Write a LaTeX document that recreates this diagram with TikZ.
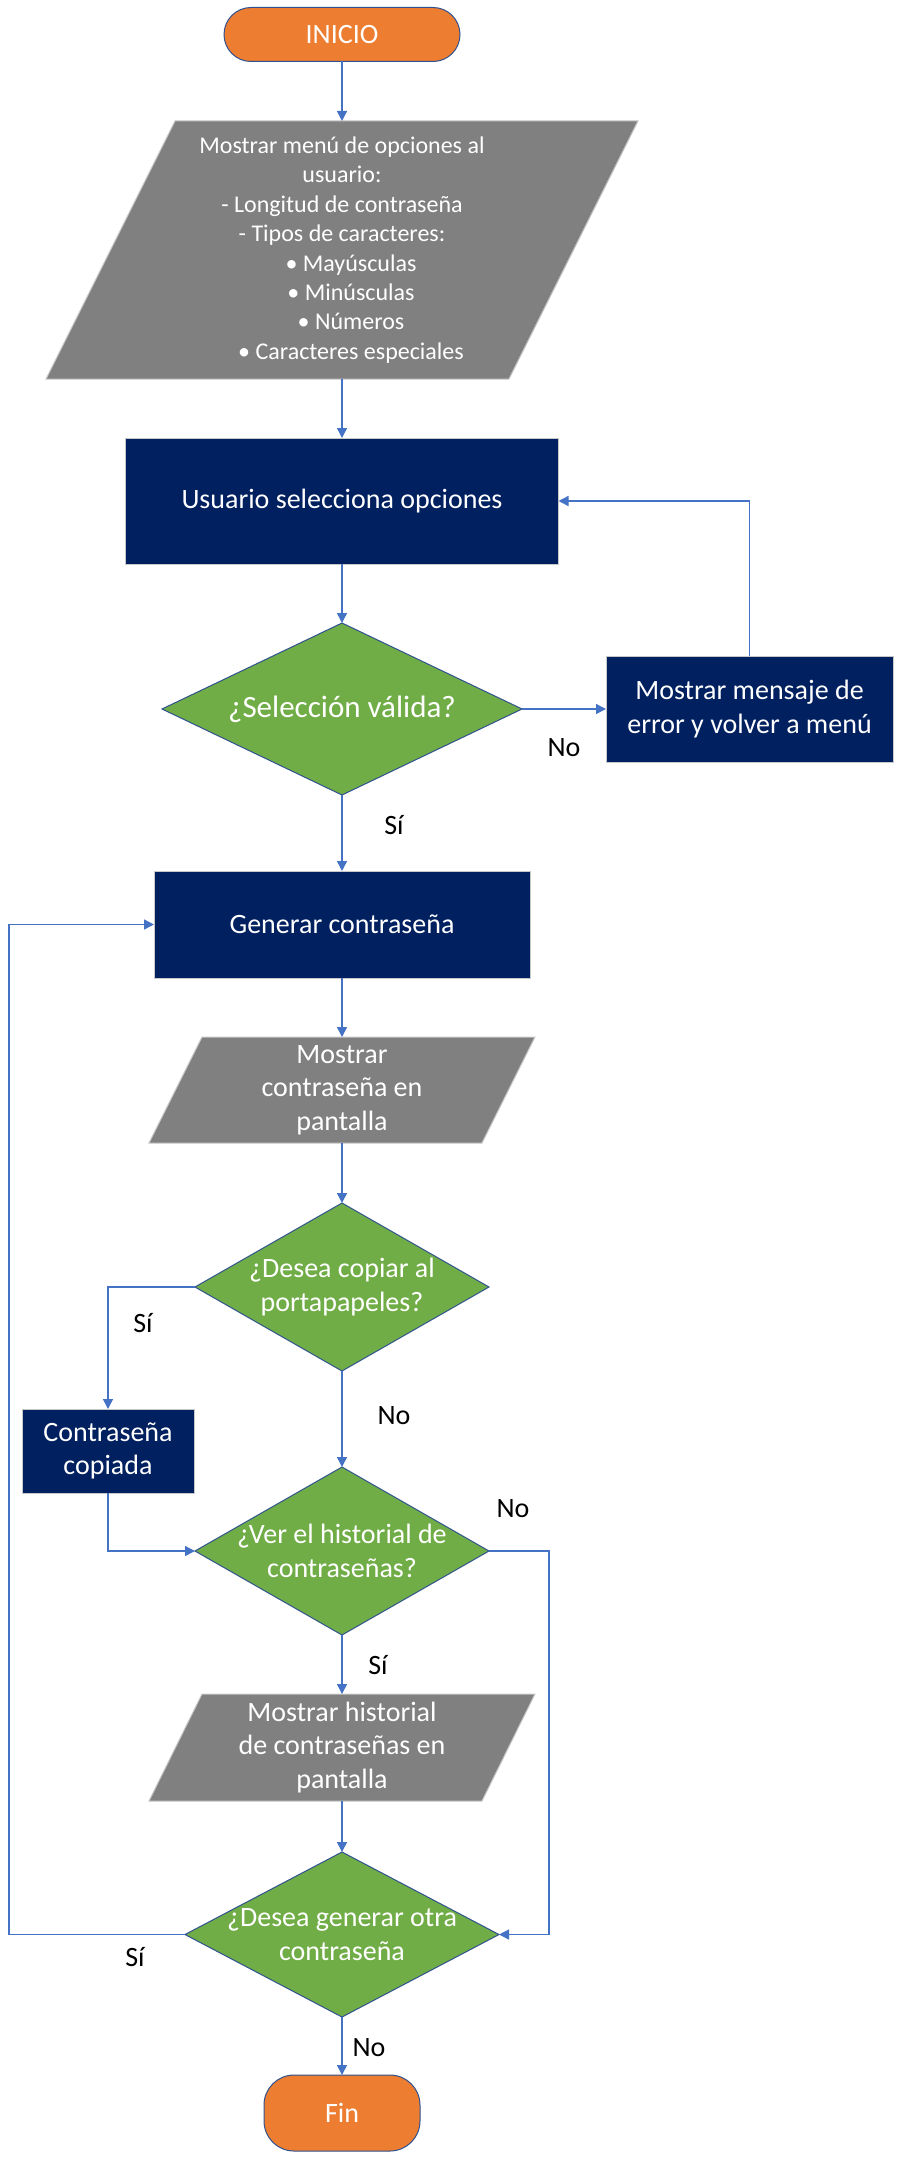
\documentclass[tikz,border=0pt]{standalone}
\usepackage{fontspec}
\setmainfont{Carlito}
\usetikzlibrary{arrows.meta,backgrounds,calc}
\definecolor{orng}{HTML}{ED7D31}
\definecolor{navy}{HTML}{002060}
\definecolor{grn}{HTML}{70AD47}
\definecolor{gry}{HTML}{808080}
\definecolor{connc}{HTML}{4472C4}
\definecolor{edgec}{HTML}{2F528F}
\definecolor{lgry}{HTML}{C8C8C8}
\begin{document}
\begin{tikzpicture}[x=1pt,y=-1pt,
  every node/.style={inner sep=0pt, outer sep=0pt, align=center, text=white},
  term/.style={draw=edgec, line width=1pt, fill=orng, rounded corners=#1, font=\fontsize{28}{33.5}\selectfont},
  proc/.style={draw=lgry, line width=1pt, fill=navy, font=\fontsize{28}{33.5}\selectfont},
  shp/.style={font=\fontsize{28}{33.5}\selectfont},
  lbl/.style={text=black, font=\fontsize{28}{33.5}\selectfont},
  flow/.style={draw=connc, line width=1.4pt, -{Triangle[length=10pt,width=10pt]}},
  parafill/.style={fill=gry, draw=lgry, line width=1pt},
  diafill/.style={fill=grn, draw=edgec, line width=1pt}
]
\useasboundingbox (0,0) rectangle (901,2159);
% nodes
\node[term=27pt, minimum width=236pt, minimum height=54pt] (ini) at (342,34.5) {INICIO};
\node[shp, minimum width=463pt, minimum height=258pt, font=\fontsize{24}{29.4}\selectfont] (p1) at (342,250)
  {Mostrar menú de opciones al\\usuario:\\- Longitud de contraseña\\- Tipos de caracteres:\\\hspace*{18pt}• Mayúsculas\\\hspace*{18pt}• Minúsculas\\\hspace*{18pt}• Números\\\hspace*{18pt}• Caracteres especiales};
\node[proc, minimum width=433pt, minimum height=126pt] (usr) at (342,501) {Usuario selecciona opciones};
\node[shp, minimum width=360pt, minimum height=172pt, font=\fontsize{31}{37}\selectfont] (d1) at (342,709) {¿Selección válida?};
\node[proc, minimum width=287pt, minimum height=106pt] (err) at (749.5,709) {Mostrar mensaje de\\error y volver a menú};
\node[proc, minimum width=376pt, minimum height=107pt] (gen) at (342,924.5) {Generar contraseña};
\node[shp, minimum width=333pt, minimum height=106pt] (p2) at (342,1090) {Mostrar\\contraseña en\\pantalla};
\node[shp, minimum width=294pt, minimum height=168pt] (d2) at (342,1287) {¿Desea copiar al\\portapapeles?};
\node[proc, minimum width=172pt, minimum height=84pt] (cop) at (108,1451) {Contraseña\\copiada};
\node[shp, minimum width=294pt, minimum height=168pt] (d3) at (342,1551) {¿Ver el historial de\\contraseñas?};
\node[shp, minimum width=333pt, minimum height=107pt] (p3) at (342,1747.5) {Mostrar historial\\de contraseñas en\\pantalla};
\node[shp, minimum width=314pt, minimum height=165pt] (d4) at (342,1934.5) {¿Desea generar otra\\contraseña};
\node[term=30pt, minimum width=156pt, minimum height=76pt] (fin) at (342,2113) {Fin};
% shapes behind text
\begin{scope}[on background layer]
\path[parafill] ($(p1.north west)+(64.5,0)$) -- ($(p1.north east)+(64.5,0)$) -- ($(p1.south east)+(-64.5,0)$) -- ($(p1.south west)+(-64.5,0)$) -- cycle;
\path[parafill] ($(p2.north west)+(26.5,0)$) -- ($(p2.north east)+(26.5,0)$) -- ($(p2.south east)+(-26.5,0)$) -- ($(p2.south west)+(-26.5,0)$) -- cycle;
\path[parafill] ($(p3.north west)+(26.5,0)$) -- ($(p3.north east)+(26.5,0)$) -- ($(p3.south east)+(-26.5,0)$) -- ($(p3.south west)+(-26.5,0)$) -- cycle;
\path[diafill] (d1.north) -- (d1.east) -- (d1.south) -- (d1.west) -- cycle;
\path[diafill] (d2.north) -- (d2.east) -- (d2.south) -- (d2.west) -- cycle;
\path[diafill] (d3.north) -- (d3.east) -- (d3.south) -- (d3.west) -- cycle;
\path[diafill] (d4.north) -- (d4.east) -- (d4.south) -- (d4.west) -- cycle;
\end{scope}
% helper coordinates
\coordinate (r1) at (549,1551);
\coordinate (l1) at (9,1934.5);
% connectors
\draw[flow] (ini.south) -- (p1.north);
\draw[flow] (p1.south) -- (usr.north);
\draw[flow] (usr.south) -- (d1.north);
\draw[flow] (d1.east) -- (err.west);
\draw[flow] (err.north) |- (usr.east);
\draw[flow] (d1.south) -- (gen.north);
\draw[flow] (gen.south) -- (p2.north);
\draw[flow] (p2.south) -- (d2.north);
\draw[flow] (d2.west) -| (cop.north);
\draw[flow] (d2.south) -- (d3.north);
\draw[flow] (cop.south) |- (d3.west);
\draw[flow] (d3.east) -- (r1) |- (d4.east);
\draw[flow] (d3.south) -- (p3.north);
\draw[flow] (p3.south) -- (d4.north);
\draw[flow] (d4.west) -- (l1) |- (gen.west);
\draw[flow] (d4.south) -- (fin.north);
% labels
\node[lbl] (t1) at (564,748) {No};
\node[lbl] (t2) at (394,825) {Sí};
\node[lbl] (t3) at (143,1323) {Sí};
\node[lbl] (t4) at (394,1416) {No};
\node[lbl] (t5) at (513,1509) {No};
\node[lbl] (t6) at (378,1665) {Sí};
\node[lbl] (t7) at (135,1957) {Sí};
\node[lbl] (t8) at (369,2048) {No};
\end{tikzpicture}
\end{document}
